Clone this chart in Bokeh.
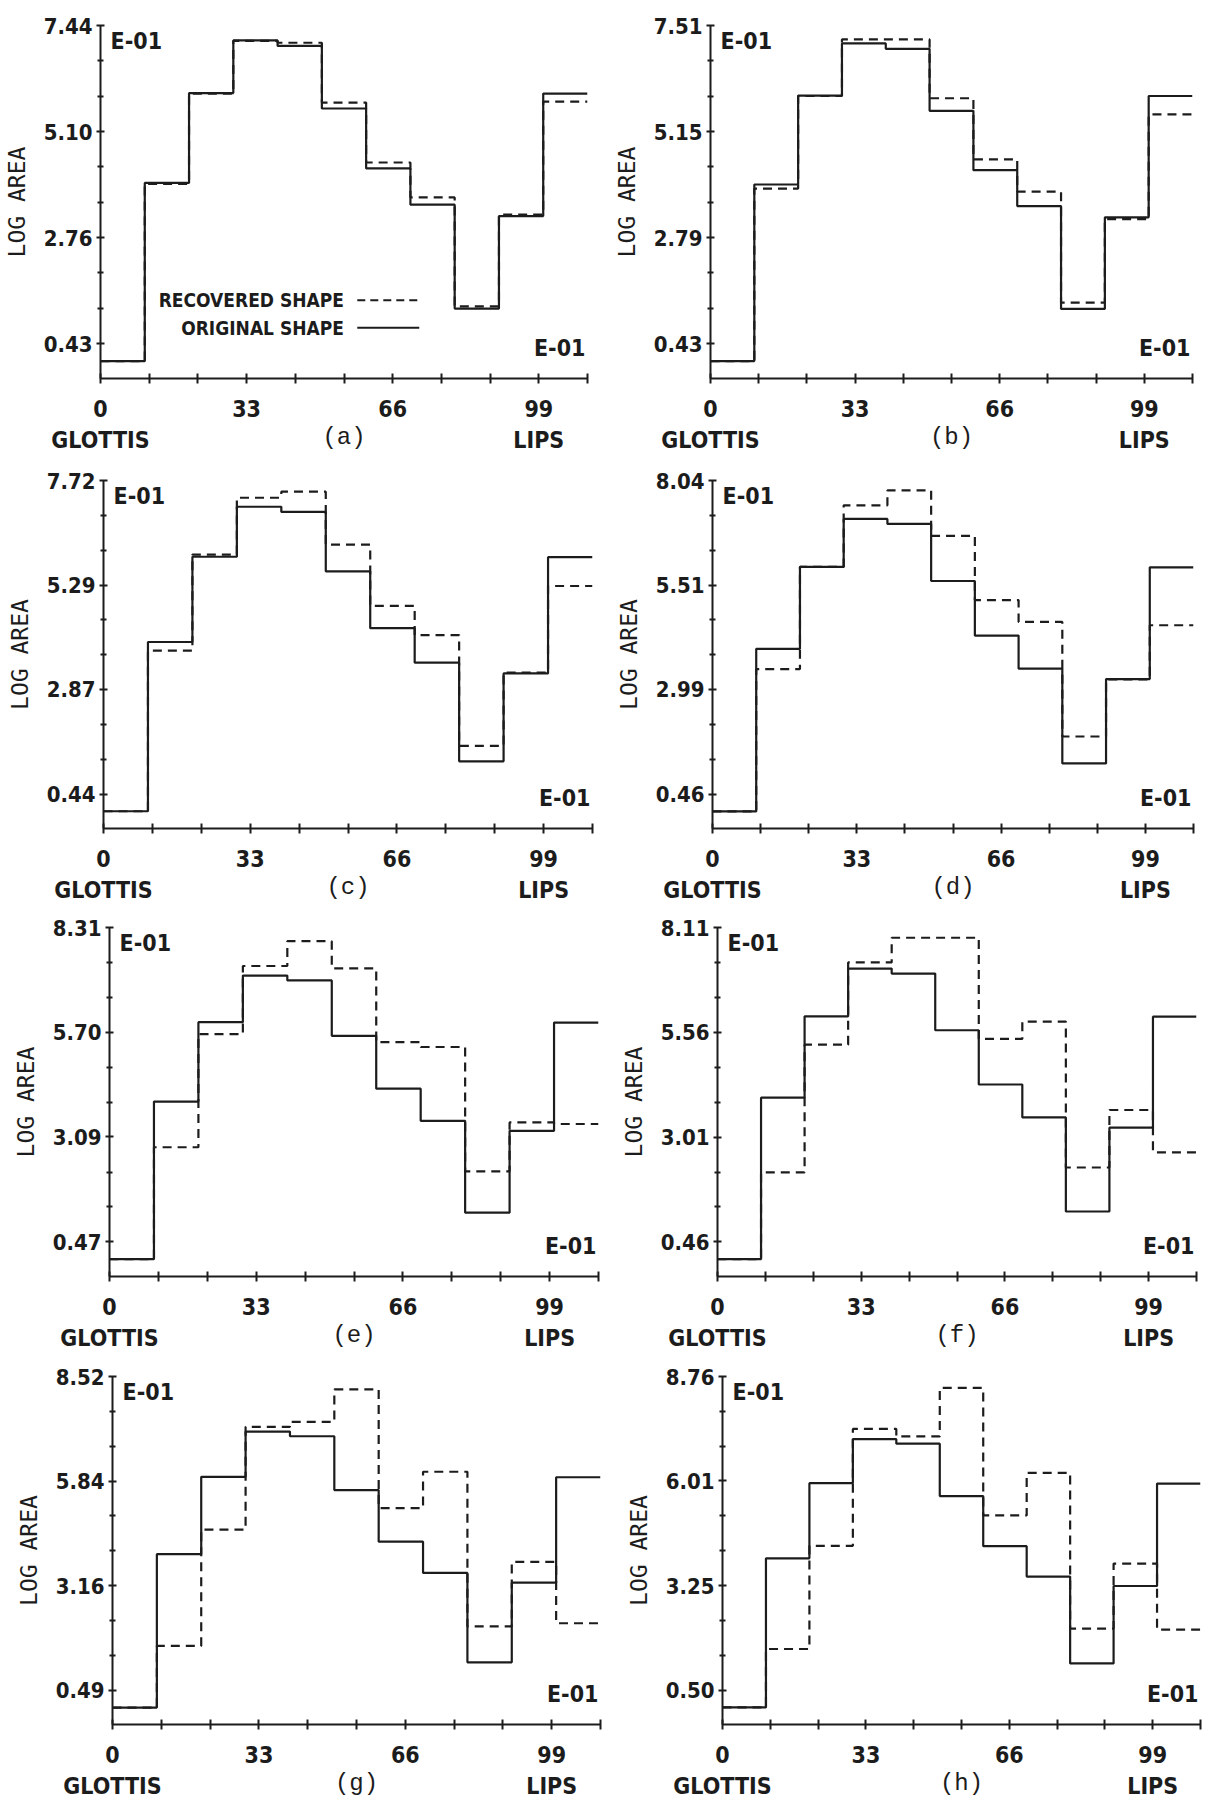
from bokeh.plotting import figure
from bokeh.layouts import column, row
from bokeh.models import Range1d, FixedTicker, PrintfTickFormatter, Label, Arrow
from bokeh.embed import file_html
from bokeh.resources import INLINE

# ---------------- data ----------------
section_edges = [0, 10, 20, 30, 40, 50, 60, 70, 80, 90, 100, 110]

original = [0.04, 3.97, 5.95, 7.11, 6.99, 5.61, 4.29, 3.49, 1.20, 3.24, 5.94]

recovered_a = [0.04, 3.95, 5.94, 7.10, 7.06, 5.74, 4.42, 3.65, 1.25, 3.27, 5.76]
recovered_b = [0.04, 3.88, 5.94, 7.20, 7.20, 5.89, 4.53, 3.81, 1.34, 3.20, 5.53]
recovered_c = [0.04, 3.77, 6.00, 7.32, 7.46, 6.23, 4.81, 4.13, 1.56, 3.26, 5.27]
recovered_d = [0.04, 3.48, 5.95, 7.44, 7.80, 6.70, 5.15, 4.62, 1.85, 3.23, 4.54]
recovered_e = [0.04, 2.83, 5.65, 7.35, 7.97, 7.29, 5.45, 5.33, 2.23, 3.45, 3.41]
recovered_f = [0.04, 2.15, 5.26, 7.26, 7.86, 7.86, 5.40, 5.82, 2.27, 3.67, 2.64]
recovered_g = [0.04, 1.62, 4.60, 7.23, 7.36, 8.19, 5.15, 6.08, 2.12, 3.77, 2.20]
recovered_h = [0.04, 1.58, 4.30, 7.38, 7.18, 8.46, 5.10, 6.22, 2.12, 3.83, 2.09]

y_ticks_a = [0.43, 2.76, 5.10, 7.44]
y_ticks_b = [0.43, 2.79, 5.15, 7.51]
y_ticks_c = [0.44, 2.87, 5.29, 7.72]
y_ticks_d = [0.46, 2.99, 5.51, 8.04]
y_ticks_e = [0.47, 3.09, 5.70, 8.31]
y_ticks_f = [0.46, 3.01, 5.56, 8.11]
y_ticks_g = [0.49, 3.16, 5.84, 8.52]
y_ticks_h = [0.50, 3.25, 6.01, 8.76]

x_tick_values = [0, 33, 66, 99]
x_tick_labels = ["0\nGLOTTIS", "33", "66", "99\nLIPS"]
x_minor_ticks = [11, 22, 44, 55, 77, 88, 110]
panel_letters = ["(a)", "(b)", "(c)", "(d)", "(e)", "(f)", "(g)", "(h)"]
legend_texts = ["RECOVERED SHAPE", "ORIGINAL SHAPE"]
exponent_text = "E-01"
y_title = "LOG AREA"

# ---------------- style ----------------
INK = "#1c1c1c"
COND = "'DejaVu Sans Condensed', 'Liberation Sans Narrow', 'Roboto Condensed', 'DejaVu Sans'"
MONO = "'Liberation Mono', 'DejaVu Sans Mono'"
LBL = "'DejaVu Sans Mono', 'Liberation Mono'"


def make_panel(letter, y_ticks, recovered, width, height, bl, br, bt, bb, legend=False):
    lo, hi = y_ticks[0], y_ticks[-1]
    step = (hi - lo) / 3.0
    bottom = lo - 0.33 * step
    frame_h = height - bt - bb
    p = figure(width=width, height=height, output_backend="svg", toolbar_location=None,
               x_range=Range1d(section_edges[0], section_edges[-1]),
               y_range=Range1d(bottom, hi),
               min_border_left=bl, min_border_right=br,
               min_border_top=bt, min_border_bottom=bb,
               background_fill_color="white", border_fill_color="white",
               outline_line_color=None)
    p.grid.visible = False

    xa = p.xaxis[0]
    xa.ticker = FixedTicker(ticks=x_tick_values, minor_ticks=x_minor_ticks)
    xa.major_label_overrides = dict(zip(x_tick_values, x_tick_labels))
    xa.axis_line_width = 2
    xa.axis_line_color = INK
    xa.major_tick_in = 5
    xa.major_tick_out = 5
    xa.minor_tick_in = 5
    xa.minor_tick_out = 5
    xa.major_tick_line_width = 2
    xa.minor_tick_line_width = 2
    xa.major_tick_line_color = INK
    xa.minor_tick_line_color = INK
    xa.major_label_standoff = 12
    xa.major_label_text_font = COND
    xa.major_label_text_font_size = "23px"
    xa.major_label_text_font_style = "bold"
    xa.major_label_text_color = INK
    xa.axis_label = letter
    xa.axis_label_text_font = MONO
    xa.axis_label_text_font_size = "24px"
    xa.axis_label_text_font_style = "normal"
    xa.axis_label_text_color = INK
    xa.axis_label_standoff = -32

    ya = p.yaxis[0]
    minor = [lo + i * step / 3.0 for i in range(0, 9) if i % 3 != 0]
    ya.ticker = FixedTicker(ticks=y_ticks, minor_ticks=minor)
    ya.formatter = PrintfTickFormatter(format="%.2f")
    ya.axis_line_width = 2
    ya.axis_line_color = INK
    ya.major_tick_in = 4
    ya.major_tick_out = 4
    ya.minor_tick_in = 3
    ya.minor_tick_out = 3
    ya.major_tick_line_width = 2
    ya.minor_tick_line_width = 2
    ya.major_tick_line_color = INK
    ya.minor_tick_line_color = INK
    ya.major_label_standoff = 4
    ya.major_label_text_font = COND
    ya.major_label_text_font_size = "22px"
    ya.major_label_text_font_style = "bold"
    ya.major_label_text_color = INK
    ya.axis_label = y_title
    ya.axis_label_text_font = LBL
    ya.axis_label_text_font_size = "23px"
    ya.axis_label_text_font_style = "normal"
    ya.axis_label_text_color = INK
    ya.axis_label_standoff = 11

    # step curves
    xs = section_edges
    p.step(xs, original + [original[-1]], mode="after", line_color=INK, line_width=2.2)
    p.step(xs, recovered + [recovered[-1]], mode="after", line_color=INK, line_width=2.2,
           line_dash="9 6")

    # exponent labels
    p.add_layout(Label(x=section_edges[0], y=hi, x_offset=10, y_offset=-2, text=exponent_text,
                       text_font=COND, text_font_size="23px", text_font_style="bold",
                       text_color=INK, text_baseline="top", text_align="left"))
    p.add_layout(Label(x=section_edges[-1], y=bottom, x_offset=-2, y_offset=18, text=exponent_text,
                       text_font=COND, text_font_size="23px", text_font_style="bold",
                       text_color=INK, text_baseline="bottom", text_align="right"))

    if legend:
        yr = hi - bottom
        y1 = bottom + 80.0 / frame_h * yr
        y2 = bottom + 52.0 / frame_h * yr
        p.add_layout(Label(x=55, y=y1, text=legend_texts[0], text_font=COND,
                           text_font_size="19px", text_font_style="bold", text_color=INK,
                           text_baseline="middle", text_align="right"))
        p.add_layout(Label(x=55, y=y2, text=legend_texts[1], text_font=COND,
                           text_font_size="19px", text_font_style="bold", text_color=INK,
                           text_baseline="middle", text_align="right"))
        p.add_layout(Arrow(x_start=58, y_start=y1, x_end=72, y_end=y1, start=None, end=None,
                           line_color=INK, line_width=2, line_dash="8 5"))
        p.add_layout(Arrow(x_start=58, y_start=y2, x_end=72, y_end=y2, start=None, end=None,
                           line_color=INK, line_width=2))
    return p


W = 603
# row heights (sum 1802) and per-panel borders (left, right, top, bottom)
pa = make_panel(panel_letters[0], y_ticks_a, recovered_a, W, 460, 100, 16, 25, 74, legend=True)
pb = make_panel(panel_letters[1], y_ticks_b, recovered_b, W, 460, 107, 14, 20, 82)
pc = make_panel(panel_letters[2], y_ticks_c, recovered_c, W, 450, 103, 11, 20, 74)
pd = make_panel(panel_letters[3], y_ticks_d, recovered_d, W, 450, 109, 13, 14, 82)
pe = make_panel(panel_letters[4], y_ticks_e, recovered_e, W, 450, 109, 5, 17, 77)
pf = make_panel(panel_letters[5], y_ticks_f, recovered_f, W, 450, 114, 10, 13, 84)
pg = make_panel(panel_letters[6], y_ticks_g, recovered_g, W, 442, 112, 3, 16, 73)
ph = make_panel(panel_letters[7], y_ticks_h, recovered_h, W, 442, 119, 6, 12, 78)

layout = column(row(pa, pb), row(pc, pd), row(pe, pf), row(pg, ph))

with open("out.html", "w") as f:
    f.write(file_html(layout, INLINE))
